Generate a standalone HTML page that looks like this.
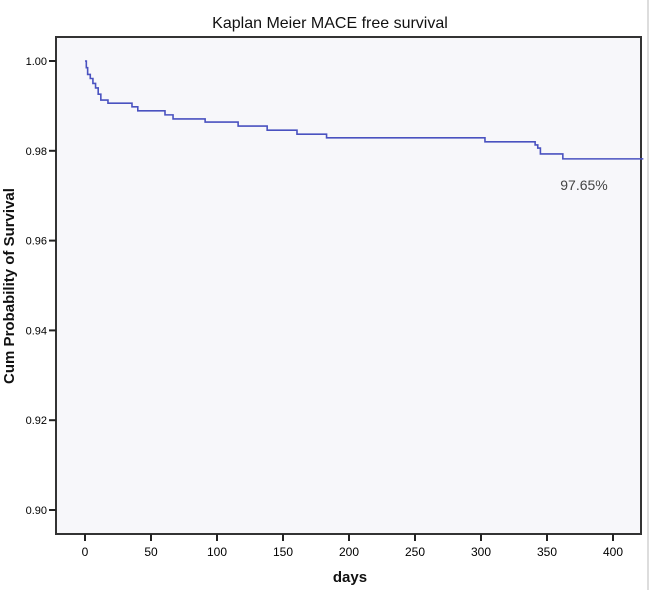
<!DOCTYPE html>
<html><head><meta charset="utf-8"><style>
body{margin:0;background:#fff;}
svg{display:block;font-family:"Liberation Sans",Arial,sans-serif;}
</style></head><body>
<svg width="651" height="590" viewBox="0 0 651 590">
<text x="330" y="28" text-anchor="middle" font-size="16" fill="#111">Kaplan Meier MACE free survival</text>
<rect x="56" y="37" width="585" height="497" fill="#f7f7fa" stroke="#333" stroke-width="2"/>
<line x1="648" y1="0" x2="648" y2="590" stroke="#bbb" stroke-width="1"/>
<g id="yaxis"></g>
<g id="xaxis"></g>
<path id="curve" fill="none" stroke="#4a52c0" stroke-width="1.6"/>
<text x="584" y="190" text-anchor="middle" font-size="14" fill="#444">97.65%</text>
<text x="350" y="582" text-anchor="middle" font-size="15" font-weight="bold" fill="#111">days</text>
<text transform="translate(14,286) rotate(-90)" text-anchor="middle" font-size="15" font-weight="bold" fill="#111">Cum Probability of Survival</text>
</svg>
<script>
const stepDays=[0,1,2,4,6,8,10,12,17.4,35.6,40,60.6,66.7,91,116,138,160.6,183,303,341,343,345,362,423];
const stepSurv=[1,0.9985,0.997,0.9961,0.995,0.994,0.9926,0.9913,0.9906,0.9898,0.9889,0.988,0.9871,0.9864,0.9855,0.9846,0.9837,0.9829,0.982,0.9813,0.9806,0.9793,0.9782,0.9782];
const yTicks=[1.00,0.98,0.96,0.94,0.92,0.90];
const xTicks=[0,50,100,150,200,250,300,350,400];
const X=d=>85+d*1.32;
const Y=v=>61+(1-v)*4490;
const NS="http://www.w3.org/2000/svg";
const ya=document.getElementById('yaxis'),xa=document.getElementById('xaxis');
yTicks.forEach(v=>{
 const l=document.createElementNS(NS,'line');
 
 
 l.setAttribute('x1',49);l.setAttribute('x2',56);l.setAttribute('y1',Y(v));l.setAttribute('y2',Y(v));
 l.setAttribute('stroke','#222');l.setAttribute('stroke-width',2);ya.appendChild(l);
 const t=document.createElementNS(NS,'text');
 
 
 t.setAttribute('x',47);t.setAttribute('y',Y(v)+4);t.setAttribute('text-anchor','end');t.setAttribute('font-size','11');
 t.textContent=v.toFixed(2);ya.appendChild(t);
});
xTicks.forEach(d=>{
 const l=document.createElementNS(NS,'line');
 
 
 l.setAttribute('x1',X(d));l.setAttribute('x2',X(d));l.setAttribute('y1',534);l.setAttribute('y2',541);
 l.setAttribute('stroke','#222');l.setAttribute('stroke-width',2);xa.appendChild(l);
 const t=document.createElementNS(NS,'text');
 
 
 t.setAttribute('x',X(d));t.setAttribute('y',556);t.setAttribute('text-anchor','middle');t.setAttribute('font-size','12');
 t.textContent=d;xa.appendChild(t);
});
let p='M'+X(stepDays[0])+','+Y(stepSurv[0]);
for(let i=1;i<stepDays.length;i++){p+=' H'+X(stepDays[i])+' V'+Y(stepSurv[i]);}
document.getElementById('curve').setAttribute('d',p);
</script>
</body></html>
